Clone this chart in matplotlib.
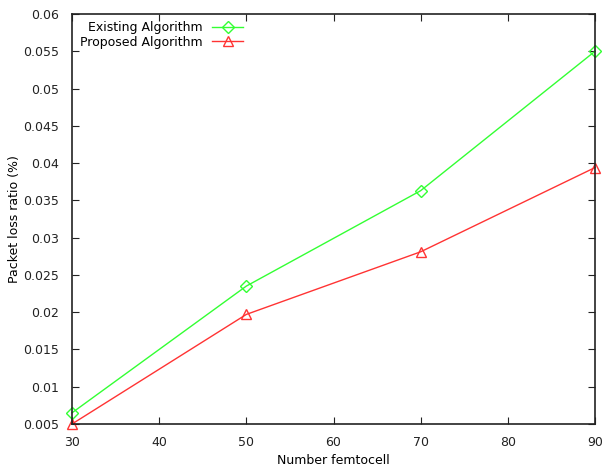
import matplotlib
matplotlib.use('Agg')
import matplotlib.pyplot as plt

femtocells = [30, 50, 70, 90]
existing = [0.0065, 0.0235, 0.0363, 0.055]
proposed = [0.005, 0.0197, 0.0281, 0.0394]

fig = plt.figure(figsize=(6.03, 4.68), dpi=100)
ax = fig.add_axes([72/603, 44/468, 523/603, 410/468])

ax.plot(femtocells, existing, color='#33ff33', lw=1, marker='D', markersize=6,
        markerfacecolor='none', markeredgecolor='#33ff33', label='Existing Algorithm', clip_on=False)
ax.plot(femtocells, proposed, color='#ff3333', lw=1, marker='^', markersize=7,
        markerfacecolor='none', markeredgecolor='#ff3333', label='Proposed Algorithm', clip_on=False)

ax.set_xlim(30, 90)
ax.set_ylim(0.005, 0.06)
ax.set_xticks(range(30, 91, 10))
ax.set_yticks([0.005 * i for i in range(1, 13)])
ax.set_yticklabels(['0.005', '0.01', '0.015', '0.02', '0.025', '0.03', '0.035',
                    '0.04', '0.045', '0.05', '0.055', '0.06'])
ax.tick_params(direction='in', top=True, right=True, length=5, labelsize=9, colors='#222222')
ax.tick_params(axis='x', pad=9)
ax.tick_params(axis='y', pad=9)
for s in ax.spines.values():
    s.set_linewidth(1.2)
    s.set_color('#222222')

ax.set_xlabel('Number femtocell', fontsize=9, labelpad=3)
ax.set_ylabel('Packet loss ratio (%)', fontsize=9, labelpad=2)

ax.legend(loc='upper left', markerfirst=False, frameon=False, fontsize=9,
          handlelength=2.5, borderaxespad=0.2, labelspacing=0.1, bbox_to_anchor=(0.0, 1.0))

fig.savefig('out.png', dpi=100)
